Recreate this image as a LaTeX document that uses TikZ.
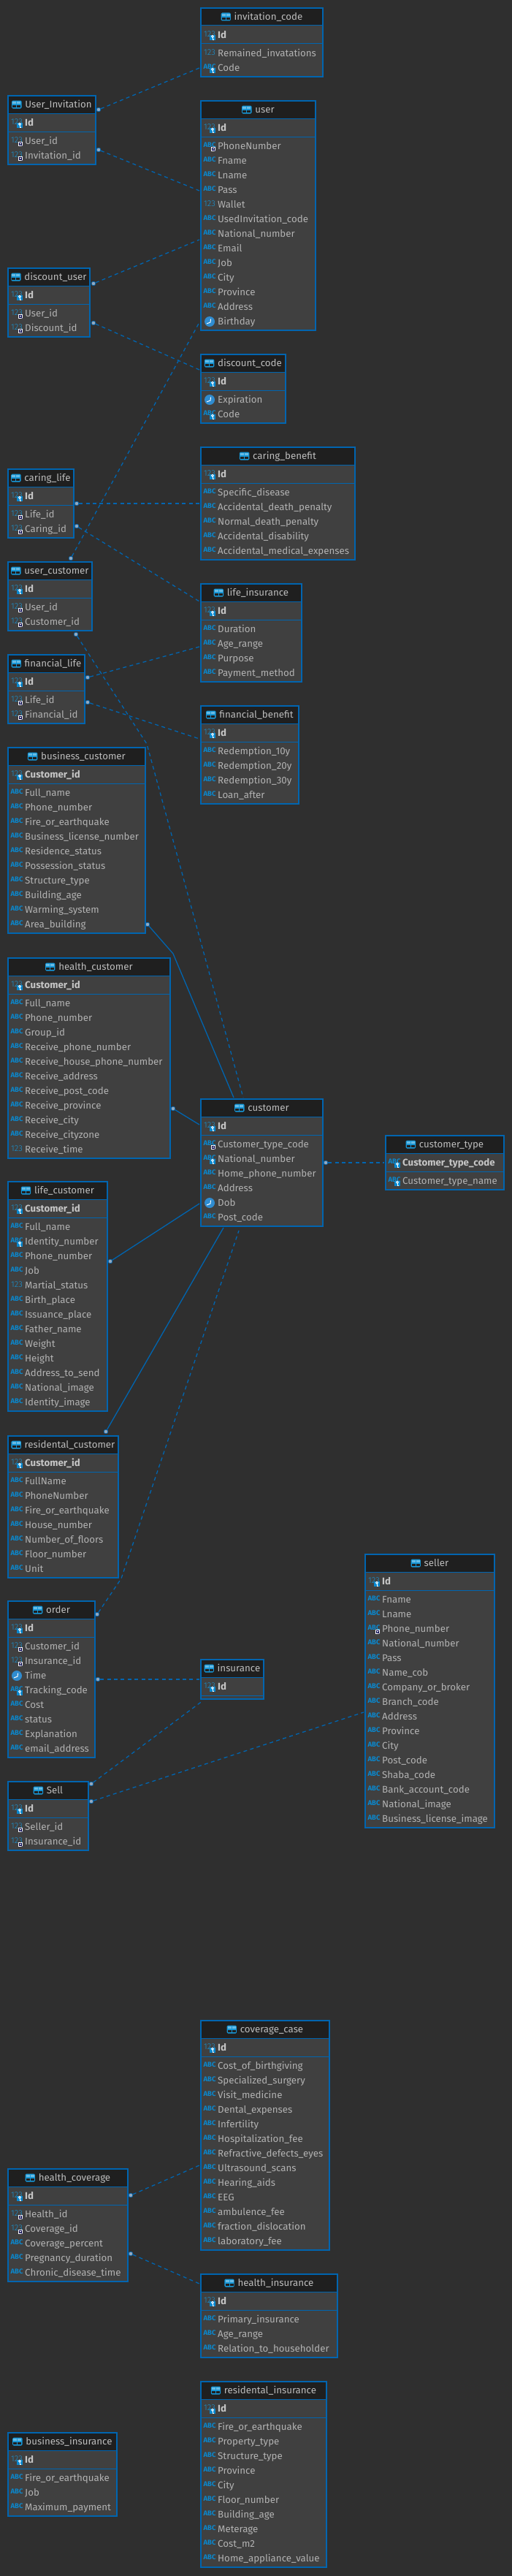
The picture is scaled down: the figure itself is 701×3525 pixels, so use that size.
\documentclass[tikz,border=0pt]{standalone}
\usepackage{fontspec}
\setmainfont{Fira Sans}
\newfontfamily\thinfont{Fira Sans Light}
\usetikzlibrary{positioning}

\definecolor{pagegray}{HTML}{2F2F2F}
\definecolor{rowgray}{HTML}{404040}
\definecolor{headgray}{HTML}{1F1F1F}
\definecolor{edgeblue}{HTML}{0065B0}
\definecolor{numblue}{HTML}{1796D6}
\definecolor{abcblue}{HTML}{0A88CE}
\definecolor{clockblue}{HTML}{2F8CD0}
\definecolor{dotgray}{HTML}{94A9BF}
\definecolor{rowtext}{HTML}{B2B2B2}
\definecolor{headtext}{HTML}{BCBCBC}
\definecolor{pktext}{HTML}{C6C6C6}

\tikzset{
    erdbox/.style={draw=edgeblue,fill=rowgray,line width=2pt,inner sep=0pt,outer sep=0pt},
    headtitle/.style={anchor=base,inner sep=0pt,text=headtext,font=\fontsize{13.3}{15}\selectfont},
    rowlabel/.style={anchor=base west,inner sep=0pt,text=rowtext,font=\fontsize{13.3}{15}\selectfont},
    pklabel/.style={rowlabel,text=pktext,font=\fontsize{13.3}{15}\selectfont\bfseries},
    numtext/.style={inner sep=0pt,text=numblue,font=\thinfont\fontsize{11.4}{12}\selectfont},
    abctext/.style={inner sep=0pt,text=abcblue,font=\fontsize{9.5}{11}\selectfont\bfseries},
    reldot/.style={circle,draw=edgeblue,fill=dotgray,line width=.7pt,minimum size=5.6pt,inner sep=0pt},
    idrel/.style={draw=edgeblue,line width=1.3pt,dash pattern=on 5pt off 4.4pt},
    solidrel/.style={draw=edgeblue,line width=1.3pt}
}

\newcommand{\icokey}{%
    \fill[abcblue] (0,-.3) rectangle (8,7.3);
    \draw[white,line width=.9pt] (4,1.8) circle (1.5);
    \draw[white,line width=.9pt] (4,3.3) -- (4,6) -- (5.5,6);
}
\newcommand{\icofk}{%
    \fill[white] (2,1) rectangle (8,7);
    \draw[black!70!blue,line width=.7pt] (3.2,2.2) rectangle (6.8,5.8);
    \draw[black!70!blue,line width=.7pt] (4.6,4) -- (7.4,6.6);
}
\newcommand{\iconnum}[1]{\node[numtext] (#1) at (0,-1.6) {123};}
\newcommand{\iconabc}[1]{\node[abctext] (#1) at (0,-1.6) {ABC};}
\newcommand{\iconn}[1]{\iconnum{#1}}
\newcommand{\icona}[1]{\iconabc{#1}}
\newcommand{\iconnk}[1]{\iconnum{#1}\icokey}
\newcommand{\iconnf}[1]{\iconnum{#1}\icofk}
\newcommand{\iconak}[1]{\iconabc{#1}\icokey}
\newcommand{\iconaf}[1]{\iconabc{#1}\icofk}
\newcommand{\icond}[1]{%
    \node[circle,fill=clockblue,minimum size=14pt,inner sep=0pt] (#1) at (0,0) {};
    \draw[white,line width=1pt] (-4,3) -- (1,1) -- (1.5,-3.5);
}
\newcommand{\tablemark}{%
    \fill[numblue,rounded corners=1.5pt] (-6.7,-5.5) rectangle (6.7,5.5);
    \fill[numblue!65!white] (-5.5,-4.3) rectangle (-.5,-.6);
    \fill[numblue!65!white] (.5,-4.3) rectangle (5.5,-.6);
    \fill[headgray] (-5.5,.8) rectangle (-.5,4.3);
    \fill[headgray] (.5,.8) rectangle (5.5,4.3);
}
% id, left, right, top, rows, title, key icon, key text, rows
\newcommand{\erdtable}[9]{%
    \pgfmathsetmacro{\tabh}{54+20*#5}
    \pgfmathsetmacro{\tabw}{#3-#2-2}
    \pgfmathsetmacro{\tabx}{(#2+#3)/2}
    \node[erdbox,minimum width=\tabw pt,minimum height=\tabh pt] (#1) at (\tabx,#4+1+\tabh/2) {};
    \fill[headgray] (#2+2,#4+2) rectangle (#3-2,#4+25);
    \draw[edgeblue,line width=1pt] (#2+2,#4+25) -- (#3-2,#4+25);
    \draw[edgeblue,line width=1pt] (#2+2,#4+50) -- (#3-2,#4+50);
    \node[headtitle] (#1-title) at (\tabx,#4+17.5) {\hspace{18pt}#6};
    \begin{scope}[shift={([xshift=6.7pt]#1-title.west |- 0,#4+13)}]
        \tablemark
    \end{scope}
    \begin{scope}[shift={(#2+13,#4+38)}]
        \csname icon#7\endcsname{#1-keyicon}
    \end{scope}
    \node[pklabel] (#1-key) at (#2+24,#4+42.5) {#8};
    \ifnum#5>0
    \foreach \ic/\tx [count=\i from 0] in {#9} {
        \pgfmathsetmacro{\rowy}{#4+63+20*\i}
        \begin{scope}[shift={(#2+13,\rowy)}]
            \csname icon\ic\endcsname{#1-icon\i}
        \end{scope}
        \node[rowlabel] (#1-row\i) at (#2+24,\rowy+4.5) {\tx};
    }
    \fi
}

\begin{document}
\begin{tikzpicture}[x=1pt,y=-1pt]
    \useasboundingbox (0,0) rectangle (701,3525);
    \fill[pagegray] (0,0) rectangle (701,3525);

    \erdtable{invitationcode}{274}{443}{10}{2}{invitation\_code}{nk}{Id}{n/Remained\_invatations,ak/Code}
    \erdtable{userinvitation}{10}{132}{130}{2}{User\_Invitation}{nk}{Id}{nf/User\_id,nf/Invitation\_id}
    \erdtable{user}{274}{433}{137}{13}{user}{nk}{Id}{af/PhoneNumber,a/Fname,a/Lname,a/Pass,n/Wallet,a/UsedInvitation\_code,a/National\_number,a/Email,a/Job,a/City,a/Province,a/Address,d/Birthday}
    \erdtable{discountuser}{10}{124}{366}{2}{discount\_user}{nk}{Id}{nf/User\_id,nf/Discount\_id}
    \erdtable{discountcode}{274}{392}{484}{2}{discount\_code}{nk}{Id}{d/Expiration,ak/Code}
    \erdtable{caringbenefit}{274}{487}{611}{5}{caring\_benefit}{nk}{Id}{a/Specific\_disease,a/Accidental\_death\_penalty,a/Normal\_death\_penalty,a/Accidental\_disability,a/Accidental\_medical\_expenses}
    \erdtable{caringlife}{10}{102}{641}{2}{caring\_life}{nk}{Id}{nf/Life\_id,nf/Caring\_id}
    \erdtable{usercustomer}{10}{127}{768}{2}{user\_customer}{nk}{Id}{nf/User\_id,nf/Customer\_id}
    \erdtable{lifeinsurance}{274}{414}{798}{4}{life\_insurance}{nk}{Id}{a/Duration,a/Age\_range,a/Purpose,a/Payment\_method}
    \erdtable{financiallife}{10}{117}{895}{2}{financial\_life}{nk}{Id}{nf/Life\_id,nf/Financial\_id}
    \erdtable{financialbenefit}{274}{410}{965}{4}{financial\_benefit}{nk}{Id}{a/Redemption\_10y,a/Redemption\_20y,a/Redemption\_30y,a/Loan\_after}
    \erdtable{businesscustomer}{10}{200}{1022}{10}{business\_customer}{nk}{Customer\_id}{a/Full\_name,a/Phone\_number,a/Fire\_or\_earthquake,a/Business\_license\_number,a/Residence\_status,a/Possession\_status,a/Structure\_type,a/Building\_age,a/Warming\_system,a/Area\_building}
    \erdtable{healthcustomer}{10}{234}{1310}{11}{health\_customer}{nk}{Customer\_id}{a/Full\_name,a/Phone\_number,a/Group\_id,a/Receive\_phone\_number,a/Receive\_house\_phone\_number,a/Receive\_address,a/Receive\_post\_code,a/Receive\_province,a/Receive\_city,a/Receive\_cityzone,n/Receive\_time}
    \erdtable{customer}{274}{443}{1503}{6}{customer}{nk}{Id}{af/Customer\_type\_code,ak/National\_number,a/Home\_phone\_number,a/Address,d/Dob,a/Post\_code}
    \erdtable{customertype}{527}{691}{1553}{1}{customer\_type}{ak}{Customer\_type\_code}{ak/Customer\_type\_name}
    \erdtable{lifecustomer}{10}{148}{1616}{13}{life\_customer}{nk}{Customer\_id}{a/Full\_name,ak/Identity\_number,a/Phone\_number,a/Job,n/Martial\_status,a/Birth\_place,a/Issuance\_place,a/Father\_name,a/Weight,a/Height,a/Address\_to\_send,a/National\_image,a/Identity\_image}
    \erdtable{residentalcustomer}{10}{163}{1964}{7}{residental\_customer}{nk}{Customer\_id}{a/FullName,a/PhoneNumber,a/Fire\_or\_earthquake,a/House\_number,a/Number\_of\_floors,a/Floor\_number,a/Unit}
    \erdtable{order}{10}{131}{2190}{8}{order}{nk}{Id}{nf/Customer\_id,nf/Insurance\_id,d/Time,ak/Tracking\_code,a/Cost,a/status,a/Explanation,a/email\_address}
    \erdtable{sell}{10}{122}{2437}{2}{Sell}{nk}{Id}{nf/Seller\_id,nf/Insurance\_id}
    \erdtable{insurance}{274}{362}{2270}{0}{insurance}{nk}{Id}{}
    \erdtable{seller}{499}{678}{2126}{16}{seller}{nk}{Id}{a/Fname,a/Lname,af/Phone\_number,a/National\_number,a/Pass,a/Name\_cob,a/Company\_or\_broker,a/Branch\_code,a/Address,a/Province,a/City,a/Post\_code,a/Shaba\_code,a/Bank\_account\_code,a/National\_image,a/Business\_license\_image}
    \erdtable{coveragecase}{274}{452}{2764}{13}{coverage\_case}{nk}{Id}{a/Cost\_of\_birthgiving,a/Specialized\_surgery,a/Visit\_medicine,a/Dental\_expenses,a/Infertility,a/Hospitalization\_fee,a/Refractive\_defects\_eyes,a/Ultrasound\_scans,a/Hearing\_aids,a/EEG,a/ambulence\_fee,a/fraction\_dislocation,a/laboratory\_fee}
    \erdtable{healthcoverage}{10}{176}{2967}{5}{health\_coverage}{nk}{Id}{nf/Health\_id,nf/Coverage\_id,a/Coverage\_percent,a/Pregnancy\_duration,a/Chronic\_disease\_time}
    \erdtable{healthinsurance}{274}{463}{3111}{3}{health\_insurance}{nk}{Id}{a/Primary\_insurance,a/Age\_range,a/Relation\_to\_householder}
    \erdtable{residentalinsurance}{274}{448}{3258}{10}{residental\_insurance}{nk}{Id}{a/Fire\_or\_earthquake,a/Property\_type,a/Structure\_type,a/Province,a/City,a/Floor\_number,a/Building\_age,a/Meterage,a/Cost\_m2,a/Home\_appliance\_value}
    \erdtable{businessinsurance}{10}{161}{3328}{3}{business\_insurance}{nk}{Id}{a/Fire\_or\_earthquake,a/Job,a/Maximum\_payment}

    \node[reldot] (dotInviteA) at (135,150) {};
    \node[reldot] (dotInviteB) at (135,205) {};
    \node[reldot] (dotDiscountA) at (128,388) {};
    \node[reldot] (dotDiscountB) at (128,442) {};
    \node[reldot] (dotCaringA) at (105,689) {};
    \node[reldot] (dotCaringB) at (105,720) {};
    \node[reldot] (dotUserCustA) at (97,764) {};
    \node[reldot] (dotUserCustB) at (104,868) {};
    \node[reldot] (dotFinancialA) at (120,927) {};
    \node[reldot] (dotFinancialB) at (120,961) {};
    \node[reldot] (dotBusiness) at (202,1265) {};
    \node[reldot] (dotHealth) at (237,1517) {};
    \node[reldot] (dotLife) at (151,1726) {};
    \node[reldot] (dotResidental) at (145,1959) {};
    \node[reldot] (dotType) at (446,1591) {};
    \node[reldot] (dotOrderA) at (133,2209) {};
    \node[reldot] (dotOrderB) at (134,2298) {};
    \node[reldot] (dotSellA) at (125,2441) {};
    \node[reldot] (dotSellB) at (125,2465) {};
    \node[reldot] (dotCoverageA) at (179,3004) {};
    \node[reldot] (dotCoverageB) at (179,3084) {};

    \coordinate (endInviteA) at (273,93);
    \coordinate (endInviteB) at (273,261);
    \coordinate (endDiscountA) at (273,328);
    \coordinate (endDiscountB) at (273,506);
    \coordinate (endCaringA) at (273,689);
    \coordinate (endCaringB) at (273,823);
    \coordinate (endUserCustA) at (273,441);
    \coordinate (bendUserCust) at (201,1018);
    \coordinate (endUserCustB) at (333,1502);
    \coordinate (endFinancialA) at (273,885);
    \coordinate (endFinancialB) at (273,1011);
    \coordinate (bendBusiness) at (237,1305);
    \coordinate (endBusiness) at (320,1502);
    \coordinate (endHealth) at (273,1539);
    \coordinate (endLife) at (273,1647);
    \coordinate (endResidental) at (306,1680);
    \coordinate (endType) at (526,1591);
    \coordinate (endOrderA) at (327,1684);
    \coordinate (bendOrder) at (166,2160);
    \coordinate (endOrderB) at (273,2298);
    \coordinate (endSellA) at (278,2327);
    \coordinate (endSellB) at (498,2343);
    \coordinate (endCoverageA) at (273,2963);
    \coordinate (endCoverageB) at (273,3125);

    \draw[idrel] (dotInviteA) -- (endInviteA);
    \draw[idrel] (dotInviteB) -- (endInviteB);
    \draw[idrel] (dotDiscountA) -- (endDiscountA);
    \draw[idrel] (dotDiscountB) -- (endDiscountB);
    \draw[idrel] (dotCaringA) -- (endCaringA);
    \draw[idrel] (dotCaringB) -- (endCaringB);
    \draw[idrel] (dotUserCustA) -- (endUserCustA);
    \draw[idrel] (dotUserCustB) -- (bendUserCust) -- (endUserCustB);
    \draw[idrel] (dotFinancialA) -- (endFinancialA);
    \draw[idrel] (dotFinancialB) -- (endFinancialB);
    \draw[solidrel] (dotBusiness) -- (bendBusiness) -- (endBusiness);
    \draw[solidrel] (dotHealth) -- (endHealth);
    \draw[solidrel] (dotLife) -- (endLife);
    \draw[solidrel] (dotResidental) -- (endResidental);
    \draw[idrel] (dotType) -- (endType);
    \draw[idrel] (dotOrderA) -- (bendOrder) -- (endOrderA);
    \draw[idrel] (dotOrderB) -- (endOrderB);
    \draw[idrel] (dotSellA) -- (endSellA);
    \draw[idrel] (dotSellB) -- (endSellB);
    \draw[idrel] (dotCoverageA) -- (endCoverageA);
    \draw[idrel] (dotCoverageB) -- (endCoverageB);
\end{tikzpicture}
\end{document}
